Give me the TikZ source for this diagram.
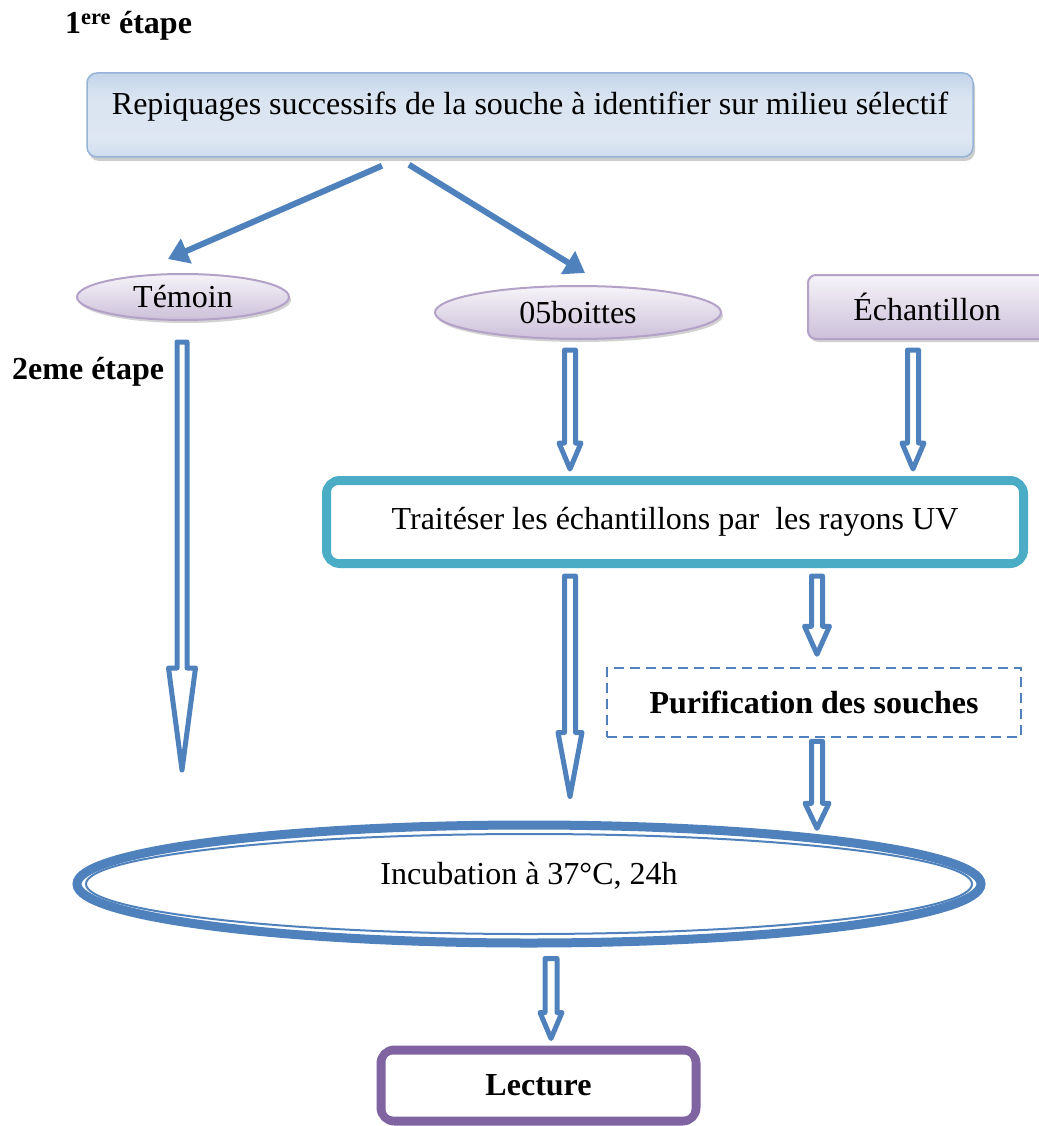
\documentclass[tikz,border=0pt]{standalone}
\usepackage{fontspec}
\setmainfont{Liberation Serif}
\usetikzlibrary{shapes.geometric,arrows.meta,calc,shadows}
\definecolor{ablue}{HTML}{4F81BD}
\definecolor{tealc}{HTML}{4BACC6}
\definecolor{purp}{HTML}{8064A2}
\definecolor{lavb}{HTML}{B3A2C7}
\definecolor{lavf}{HTML}{CCC0DA}
\definecolor{lavl}{HTML}{F6F4F9}
\definecolor{blued}{HTML}{95B3D7}
\pgfdeclareverticalshading{bluegrad}{100bp}{
  color(0bp)=(blued!95!white); color(12bp)=(blued!65!white); color(35bp)=(blued!32!white);
  color(60bp)=(blued!35!white); color(85bp)=(blued!70!white);
  color(100bp)=(blued)}
\newcommand{\blockarrow}[5]{%
  \draw[blockarr] let \p1=(#1), \p2=(#2) in
    (\x1-#4,\y1) -- (\x1-#4,\y2+#3) -- (\x1-#5,\y2+#3) -- (\x1,\y2)
    -- (\x1+#5,\y2+#3) -- (\x1+#4,\y2+#3) -- (\x1+#4,\y1) -- cycle;}
\begin{document}
\begin{tikzpicture}[x=1pt,y=-1pt,
  every node/.style={font=\fontsize{32}{38}\selectfont, inner sep=0pt},
  boldtxt/.style={font=\bfseries\fontsize{32}{38}\selectfont},
  blockarr/.style={draw=ablue, line width=5pt, fill=white, line join=round},
  thinarr/.style={draw=ablue, line width=6pt, -{Triangle[length=20pt,width=26pt]}},
  topbox/.style={rectangle, rounded corners=10pt, draw=blued, line width=1.5pt,
    shading=bluegrad,
    drop shadow={shadow xshift=2pt, shadow yshift=-4pt, fill=black!40}},
  lavell/.style={ellipse, draw=lavb, line width=2pt, top color=lavl, bottom color=lavf,
    drop shadow={shadow xshift=2pt, shadow yshift=-3pt, fill=black!35}},
  lavbox/.style={rectangle, rounded corners=8pt, draw=lavb, line width=2pt, top color=lavl, bottom color=lavf,
    drop shadow={shadow xshift=2pt, shadow yshift=-3pt, fill=black!35}},
  tealbox/.style={rectangle, rounded corners=14pt, draw=tealc, line width=8pt, fill=white},
  purpbox/.style={rectangle, rounded corners=14pt, draw=purp, line width=8pt, fill=white},
  dashbox/.style={rectangle, draw=ablue, line width=2.5pt, dash pattern=on 10pt off 6pt},
  blueell/.style={ellipse, draw=ablue, line width=8pt, fill=white}
]
\useasboundingbox (0,0) rectangle (1038,1126);

% step labels
\node[boldtxt, anchor=base west] (step1) at (65,34) {1\textsuperscript{ere} étape};
\node[boldtxt, anchor=base west] (step2) at (12,379) {2eme étape};

% nodes
\node[topbox, minimum width=886pt, minimum height=84pt, text height=20pt, text depth=20pt]
  (top) at (530,115) {Repiquages successifs de la souche à identifier sur milieu sélectif};
\node[lavell, minimum width=212pt, minimum height=46pt] (temoin) at (183,297) {Témoin};
\node[lavell, minimum width=286pt, minimum height=53pt] (boites) at (578,312.5) {05boittes};
\node[lavbox, minimum width=238pt, minimum height=64pt] (echant) at (927,307) {Échantillon};
\node[tealbox, minimum width=698pt, minimum height=84pt] (traite) at (675,522)
  {Traitéser les échantillons par~ les rayons UV};
\draw[tealc, line width=2pt, rounded corners=8pt]
  ($(traite.north west)+(8,8)$) rectangle ($(traite.south east)+(-8,-8)$);
\node[dashbox, minimum width=414pt, minimum height=69pt, boldtxt] (purif) at (814,702.5)
  {Purification des souches};
\node[blueell, minimum width=904pt, minimum height=118pt, line width=9pt, text height=12pt, text depth=12pt]
  (incub) at (529,884) {Incubation à 37°C, 24h};
\draw[ablue, line width=2pt] (incub.center) ellipse [x radius=443pt, y radius=50pt];
\node[purpbox, minimum width=316pt, minimum height=72pt, boldtxt] (lect) at (538.5,1085.5) {Lecture};
\draw[purp, line width=2pt, rounded corners=8pt]
  ($(lect.north west)+(8,8)$) rectangle ($(lect.south east)+(-8,-8)$);

% thin arrows from top box
\draw[thinarr] ($(top.south)+(-148,8)$) -- ($(temoin.north)+(-15,-14)$);
\draw[thinarr] ($(top.south)+(-121,7)$) -- ($(boites.north)+(7,-12)$);

% block arrows
\coordinate (a1s) at ($(temoin.south)+(-1,21)$);
\coordinate (a1e) at ($(temoin.south)+(-1,449)$);
\blockarrow{a1s}{a1e}{102pt}{5pt}{13.5pt}

\coordinate (a2s) at ($(boites.south)+(-8,10)$);
\coordinate (a2e) at ($(a2s |- traite.north)+(0,-7)$);
\blockarrow{a2s}{a2e}{26pt}{5.5pt}{11pt}

\coordinate (a3s) at ($(echant.south)+(-14,10)$);
\coordinate (a3e) at ($(a3s |- traite.north)+(0,-7)$);
\blockarrow{a3s}{a3e}{26pt}{5.5pt}{11pt}

\coordinate (a4s) at ($(traite.south)+(-105,8)$);
\coordinate (a4e) at ($(a4s |- incub.north)+(0,-24)$);
\blockarrow{a4s}{a4e}{64pt}{5.5pt}{12pt}

\coordinate (a5s) at ($(traite.south)+(142,8)$);
\coordinate (a5e) at ($(a5s |- purif.north)+(0,-12.5)$);
\blockarrow{a5s}{a5e}{28pt}{5.5pt}{12.5pt}

\coordinate (a6s) at ($(purif.south)+(3,3)$);
\coordinate (a6e) at ($(purif.south)+(3,90)$);
\blockarrow{a6s}{a6e}{25pt}{5.5pt}{12pt}

\coordinate (a7s) at ($(incub.south)+(22,11)$);
\coordinate (a7e) at ($(a7s |- lect.north)+(0,-7)$);
\blockarrow{a7s}{a7e}{26pt}{6pt}{11pt}
\end{tikzpicture}
\end{document}
